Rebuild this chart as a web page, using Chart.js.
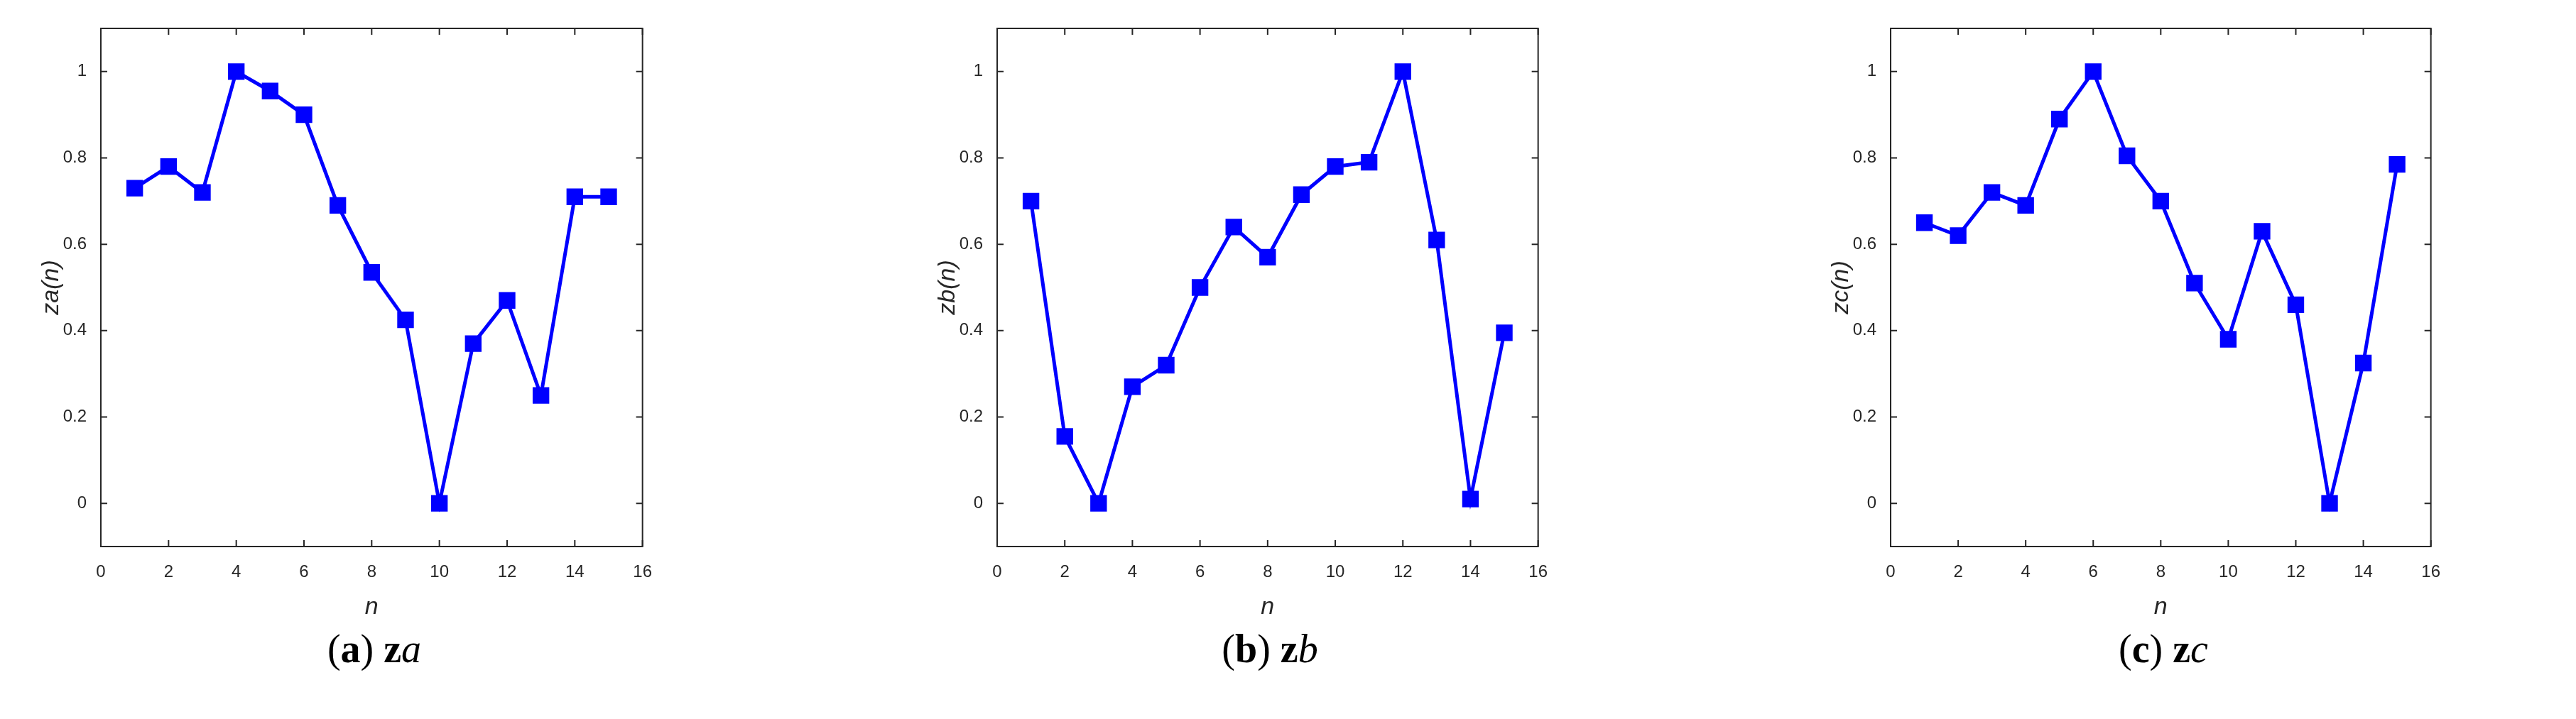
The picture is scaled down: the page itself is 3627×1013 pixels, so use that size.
<!DOCTYPE html>
<html><head><meta charset="utf-8">
<script src="https://cdn.jsdelivr.net/npm/chart.js@4"></script>
<style>
body{margin:0;background:#fff;width:3627px;height:1013px;position:relative;overflow:hidden;font-family:"Liberation Serif",serif}
.box{position:absolute;top:0;height:880px}
.cap{position:absolute;top:882px;font-size:56px;text-align:center;width:800px}
.cap b{font-weight:bold}
.cap i{font-style:italic;font-weight:normal}
</style></head><body>
<div class="box" style="left:52px;width:880px"><canvas id="ca"></canvas></div>
<div class="box" style="left:1314px;width:879px"><canvas id="cb"></canvas></div>
<div class="box" style="left:2572px;width:878px"><canvas id="cc"></canvas></div>
<div class="cap" style="left:127px">(<b>a</b>) <b>z</b><i>a</i></div>
<div class="cap" style="left:1388px">(<b>b</b>) <b>z</b><i>b</i></div>
<div class="cap" style="left:2646px">(<b>c</b>) <b>z</b><i>c</i></div>
<script>
const nValues = [1,2,3,4,5,6,7,8,9,10,11,12,13,14,15];
const zA = [0.73,0.78,0.72,1.0,0.955,0.90,0.69,0.535,0.425,0.0,0.37,0.47,0.25,0.71,0.71];
const zB = [0.70,0.155,0.0,0.27,0.32,0.50,0.64,0.57,0.715,0.78,0.79,1.0,0.61,0.01,0.395];
const zC = [0.65,0.62,0.72,0.69,0.89,1.0,0.805,0.70,0.51,0.38,0.63,0.46,0.0,0.325,0.785];
const xTicks = [0,2,4,6,8,10,12,14,16];
const yTicks = [0,0.2,0.4,0.6,0.8,1];

// frame + inward tick marks like the matlab figure
const framePlugin = {
  id: 'frame',
  afterDraw(chart) {
    const {ctx, chartArea: a, scales: {x, y}} = chart;
    ctx.save();
    ctx.strokeStyle = '#262626'; ctx.lineWidth = 2;
    ctx.strokeRect(a.left, a.top, a.right - a.left, a.bottom - a.top);
    ctx.beginPath();
    xTicks.forEach(v => { const p = x.getPixelForValue(v);
      ctx.moveTo(p, a.bottom); ctx.lineTo(p, a.bottom - 9);
      ctx.moveTo(p, a.top); ctx.lineTo(p, a.top + 9); });
    yTicks.forEach(v => { const p = y.getPixelForValue(v);
      ctx.moveTo(a.left, p); ctx.lineTo(a.left + 9, p);
      ctx.moveTo(a.right, p); ctx.lineTo(a.right - 9, p); });
    ctx.stroke();
    ctx.restore();
  }
};

function makeChart(id, data, sub) {
  new Chart(document.getElementById(id), {
    type: 'line',
    data: { datasets: [{ data: nValues.map((n, i) => ({x: n, y: data[i]})),
      borderColor: '#0000ff', backgroundColor: '#0000ff', borderWidth: 5,
      pointStyle: 'rect', pointRadius: 13, tension: 0 }] },
    options: {
      responsive: true, maintainAspectRatio: false, animation: false,
      layout: { padding: { top: 40, right: 20 } },
      plugins: { legend: { display: false }, tooltip: { enabled: false } },
      scales: {
        x: { type: 'linear', min: 0, max: 16,
          afterBuildTicks: s => { s.ticks = xTicks.map(v => ({value: v})); },
          afterFit: s => { s.height = 110; },
          grid: { display: false }, border: { display: false },
          ticks: { font: { size: 24, family: 'Liberation Sans' }, color: '#262626', padding: 14 },
          title: { display: true, text: 'n', font: { size: 34, style: 'italic', family: 'Liberation Sans' }, color: '#262626', padding: { top: 10 } } },
        y: { min: -0.1, max: 1.1,
          afterBuildTicks: s => { s.ticks = yTicks.map(v => ({value: v})); },
          afterFit: s => { s.width = 90; },
          grid: { display: false }, border: { display: false },
          ticks: { font: { size: 24, family: 'Liberation Sans' }, color: '#262626', padding: 12,
            callback: v => String(Math.round(v * 10) / 10) },
          title: { display: true, text: 'z' + sub + '(n)', font: { size: 34, style: 'italic', family: 'Liberation Sans' }, color: '#262626', padding: 0 } }
      }
    },
    plugins: [framePlugin]
  });
}
makeChart('ca', zA, 'a');
makeChart('cb', zB, 'b');
makeChart('cc', zC, 'c');
</script>
</body></html>
